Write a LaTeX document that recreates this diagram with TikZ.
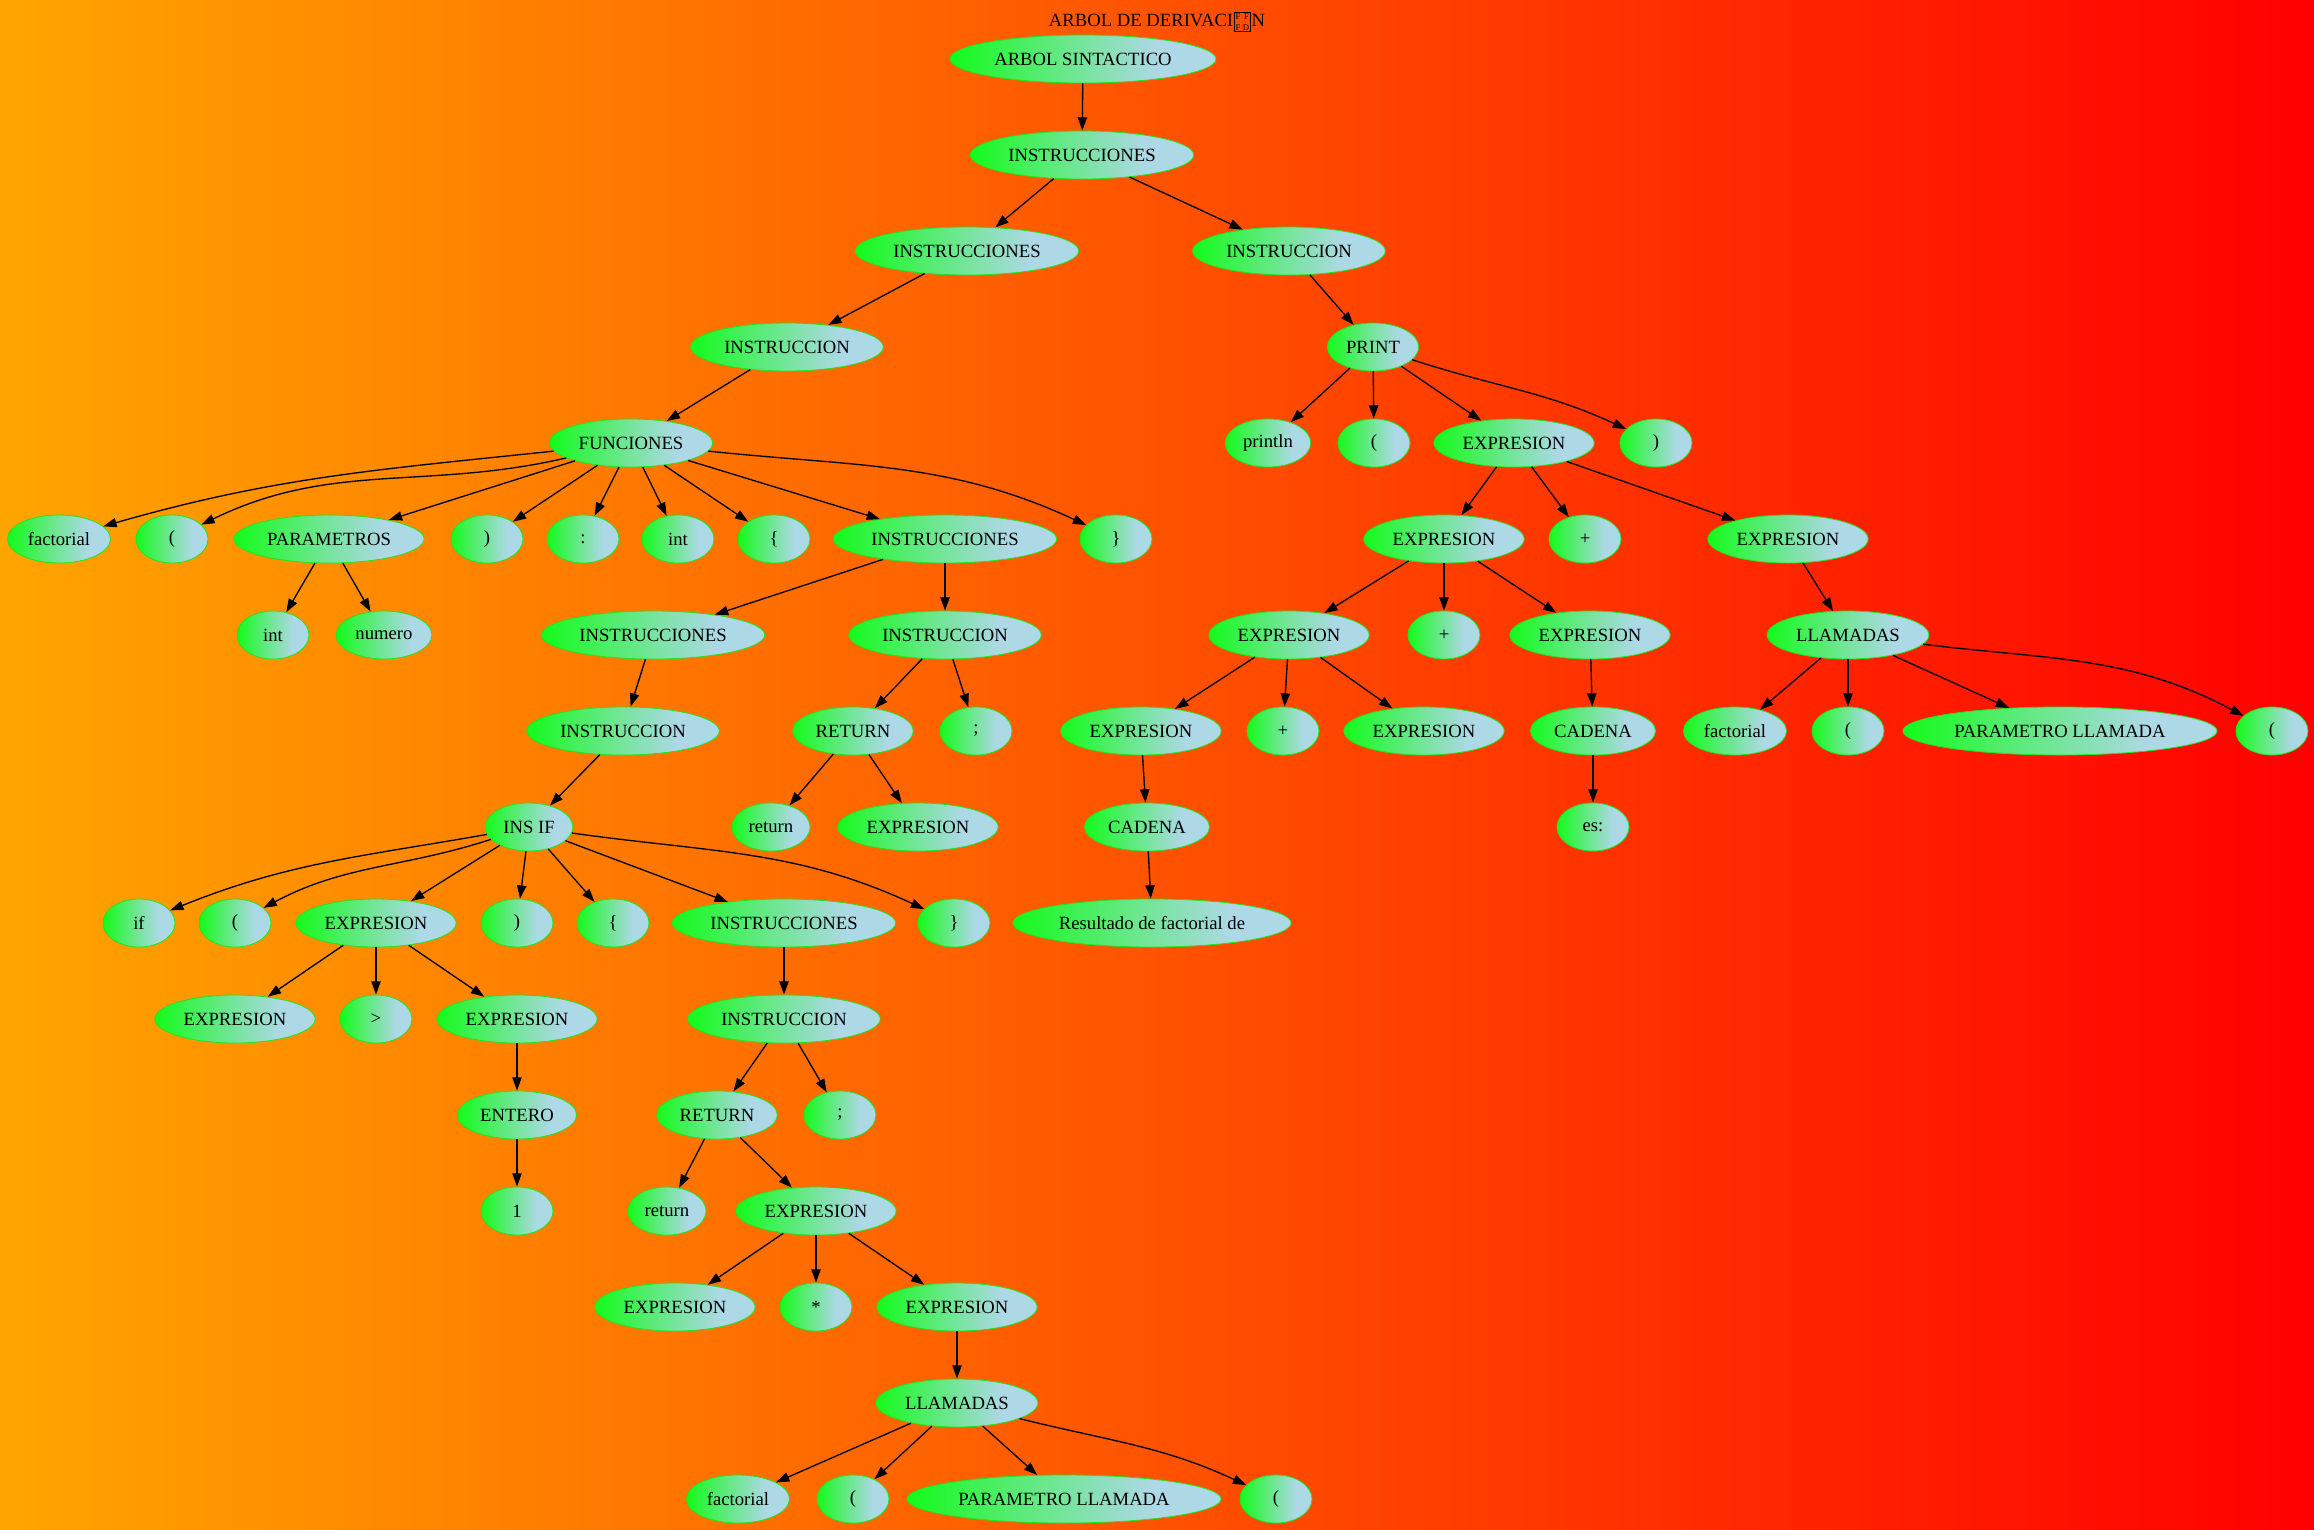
\documentclass[tikz,border=0pt]{standalone}
\usepackage{fontspec}
\setmainfont{Liberation Serif}
\usetikzlibrary{arrows.meta,shapes.geometric}
\definecolor{fondoizq}{HTML}{FFA500}
\definecolor{fondoder}{HTML}{FF0000}
\definecolor{verde}{HTML}{00FF00}
\definecolor{celeste}{HTML}{ADD8E6}
\definecolor{borde}{HTML}{1EE61E}
\pgfdeclarehorizontalshading{degradado}{100bp}{color(0bp)=(verde); color(20bp)=(verde); color(64bp)=(celeste); color(100bp)=(celeste)}
\newcommand{\glifo}{\kern0.6pt\raisebox{-3pt}{\setlength{\fboxsep}{0.8pt}\setlength{\fboxrule}{0.5pt}\fbox{\fontsize{6.5}{7}\selectfont\shortstack{\makebox[10pt]{F\hfill F}\\[0.8pt]\makebox[10pt]{F\hfill D}}}}\kern0.6pt}

\begin{document}
\begin{tikzpicture}[
    x=0.75pt, y=0.75pt,
    every node/.style={font=\fontsize{14}{16}\selectfont},
    nodo/.style={ellipse, draw=borde, line width=0.6pt, shade, shading=degradado, minimum width=54pt, minimum height=36pt, inner xsep=4pt, inner ysep=2pt},
    flow/.style={-{Triangle[length=10pt,width=7pt]}, line width=1pt}
]
\shade[left color=fondoizq, right color=fondoder] (0,0) rectangle (2314,-1529);
\useasboundingbox (0,0) rectangle (2314,-1529);
\node[anchor=base] (titulo) at (1157,-26) {ARBOL DE DERIVACI\glifo N};
% filas 0 a 4
\node[nodo] (arbol) at (1083,-59) {ARBOL SINTACTICO};
\node[nodo] (ins1) at (1082,-155) {INSTRUCCIONES};
\node[nodo] (ins2) at (967,-251) {INSTRUCCIONES};
\node[nodo] (inst2) at (1289,-251) {INSTRUCCION};
\node[nodo] (inst3) at (787,-347) {INSTRUCCION};
\node[nodo] (print) at (1373,-347) {PRINT};
\node[nodo] (fun) at (631,-443) {FUNCIONES};
\node[nodo] (println) at (1268,-443) {println};
\node[nodo] (pa4) at (1374,-443) {(};
\node[nodo] (exp4) at (1514,-443) {EXPRESION};
\node[nodo] (pc4) at (1656,-443) {)};
% fila 5
\node[nodo] (fact5) at (59,-539) {factorial};
\node[nodo] (pa5) at (172,-539) {(};
\node[nodo] (params) at (329,-539) {PARAMETROS};
\node[nodo] (pc5) at (487,-539) {)};
\node[nodo] (colon) at (583,-539) {:};
\node[nodo] (int5) at (678,-539) {int};
\node[nodo] (lb5) at (774,-539) {\{};
\node[nodo] (ins5) at (945,-539) {INSTRUCCIONES};
\node[nodo] (rb5) at (1116,-539) {\}};
\node[nodo] (exp5a) at (1444,-539) {EXPRESION};
\node[nodo] (plus5) at (1585,-539) {+};
\node[nodo] (exp5b) at (1788,-539) {EXPRESION};
% fila 6
\node[nodo] (int6) at (273,-635) {int};
\node[nodo] (numero) at (384,-635) {numero};
\node[nodo] (ins6) at (653,-635) {INSTRUCCIONES};
\node[nodo] (inst6) at (945,-635) {INSTRUCCION};
\node[nodo] (exp6a) at (1289,-635) {EXPRESION};
\node[nodo] (plus6) at (1444,-635) {+};
\node[nodo] (exp6b) at (1590,-635) {EXPRESION};
\node[nodo] (llam6) at (1848,-635) {LLAMADAS};
% fila 7
\node[nodo] (inst7) at (623,-731) {INSTRUCCION};
\node[nodo] (ret7) at (853,-731) {RETURN};
\node[nodo] (semi7) at (976,-731) {;};
\node[nodo] (exp7a) at (1141,-731) {EXPRESION};
\node[nodo] (plus7) at (1283,-731) {+};
\node[nodo] (exp7b) at (1424,-731) {EXPRESION};
\node[nodo] (cad7) at (1593,-731) {CADENA};
\node[nodo] (fact7) at (1735,-731) {factorial};
\node[nodo] (pa7) at (1848,-731) {(};
\node[nodo] (parll7) at (2060,-731) {PARAMETRO LLAMADA};
\node[nodo] (pb7) at (2272,-731) {(};
% fila 8
\node[nodo] (insif) at (529,-827) {INS IF};
\node[nodo] (kret8) at (771,-827) {return};
\node[nodo] (exp8) at (918,-827) {EXPRESION};
\node[nodo] (cad8) at (1147,-827) {CADENA};
\node[nodo] (es) at (1593,-827) {es:};
% fila 9
\node[nodo] (kif) at (139,-923) {if};
\node[nodo] (pa9) at (235,-923) {(};
\node[nodo] (exp9) at (376,-923) {EXPRESION};
\node[nodo] (pc9) at (517,-923) {)};
\node[nodo] (lb9) at (613,-923) {\{};
\node[nodo] (ins9) at (784,-923) {INSTRUCCIONES};
\node[nodo] (rb9) at (954,-923) {\}};
\node[nodo] (res) at (1152,-923) {Resultado de factorial de};
% fila 10
\node[nodo] (exp10a) at (235,-1019) {EXPRESION};
\node[nodo] (gt) at (376,-1019) {>};
\node[nodo] (exp10b) at (517,-1019) {EXPRESION};
\node[nodo] (inst10) at (784,-1019) {INSTRUCCION};
% filas 11 a 15
\node[nodo] (entero) at (517,-1115) {ENTERO};
\node[nodo] (ret11) at (717,-1115) {RETURN};
\node[nodo] (semi11) at (840,-1115) {;};
\node[nodo] (uno) at (517,-1211) {1};
\node[nodo] (kret12) at (667,-1211) {return};
\node[nodo] (exp12) at (816,-1211) {EXPRESION};
\node[nodo] (exp13a) at (675,-1307) {EXPRESION};
\node[nodo] (star) at (816,-1307) {*};
\node[nodo] (exp13b) at (957,-1307) {EXPRESION};
\node[nodo] (llam14) at (957,-1403) {LLAMADAS};
\node[nodo] (fact15) at (738,-1499) {factorial};
\node[nodo] (pa15) at (853,-1499) {(};
\node[nodo] (parll15) at (1064,-1499) {PARAMETRO LLAMADA};
\node[nodo] (pb15) at (1276,-1499) {(};
% tronco
\draw[flow] (arbol) -- (ins1);
\draw[flow] (ins1) -- (ins2);
\draw[flow] (ins1) -- (inst2);
\draw[flow] (ins2) -- (inst3);
\draw[flow] (inst3) -- (fun);
\draw[flow] (inst2) -- (print);
% PRINT
\draw[flow] (print) -- (println);
\draw[flow] (print) -- (pa4);
\draw[flow] (print) -- (exp4);
\draw[flow] (print) to[out=-18,in=155] (pc4);
% FUNCIONES
\draw[flow] (fun) to[out=186,in=16] (fact5);
\draw[flow] (fun) to[out=193,in=26] (pa5);
\draw[flow] (fun) -- (params);
\draw[flow] (fun) -- (pc5);
\draw[flow] (fun) -- (colon);
\draw[flow] (fun) -- (int5);
\draw[flow] (fun) -- (lb5);
\draw[flow] (fun) -- (ins5);
\draw[flow] (fun) to[out=-6,in=155] (rb5);
\draw[flow] (params) -- (int6);
\draw[flow] (params) -- (numero);
\draw[flow] (ins5) -- (ins6);
\draw[flow] (ins5) -- (inst6);
\draw[flow] (ins6) -- (inst7);
\draw[flow] (inst6) -- (ret7);
\draw[flow] (inst6) -- (semi7);
\draw[flow] (ret7) -- (kret8);
\draw[flow] (ret7) -- (exp8);
% INS IF
\draw[flow] (inst7) -- (insif);
\draw[flow] (insif) to[out=190,in=22] (kif);
\draw[flow] (insif) to[out=198,in=28] (pa9);
\draw[flow] (insif) -- (exp9);
\draw[flow] (insif) -- (pc9);
\draw[flow] (insif) -- (lb9);
\draw[flow] (insif) -- (ins9);
\draw[flow] (insif) to[out=-8,in=155] (rb9);
\draw[flow] (exp9) -- (exp10a);
\draw[flow] (exp9) -- (gt);
\draw[flow] (exp9) -- (exp10b);
\draw[flow] (exp10b) -- (entero);
\draw[flow] (entero) -- (uno);
\draw[flow] (ins9) -- (inst10);
\draw[flow] (inst10) -- (ret11);
\draw[flow] (inst10) -- (semi11);
\draw[flow] (ret11) -- (kret12);
\draw[flow] (ret11) -- (exp12);
\draw[flow] (exp12) -- (exp13a);
\draw[flow] (exp12) -- (star);
\draw[flow] (exp12) -- (exp13b);
\draw[flow] (exp13b) -- (llam14);
\draw[flow] (llam14) -- (fact15);
\draw[flow] (llam14) -- (pa15);
\draw[flow] (llam14) -- (parll15);
\draw[flow] (llam14) to[out=-14,in=155] (pb15);
% EXPRESION de la derecha
\draw[flow] (exp4) -- (exp5a);
\draw[flow] (exp4) -- (plus5);
\draw[flow] (exp4) -- (exp5b);
\draw[flow] (exp5a) -- (exp6a);
\draw[flow] (exp5a) -- (plus6);
\draw[flow] (exp5a) -- (exp6b);
\draw[flow] (exp6a) -- (exp7a);
\draw[flow] (exp6a) -- (plus7);
\draw[flow] (exp6a) -- (exp7b);
\draw[flow] (exp7a) -- (cad8);
\draw[flow] (cad8) -- (res);
\draw[flow] (exp6b) -- (cad7);
\draw[flow] (cad7) -- (es);
\draw[flow] (exp5b) -- (llam6);
\draw[flow] (llam6) -- (fact7);
\draw[flow] (llam6) -- (pa7);
\draw[flow] (llam6) -- (parll7);
\draw[flow] (llam6) to[out=-7,in=152] (pb7);
\end{tikzpicture}
\end{document}
